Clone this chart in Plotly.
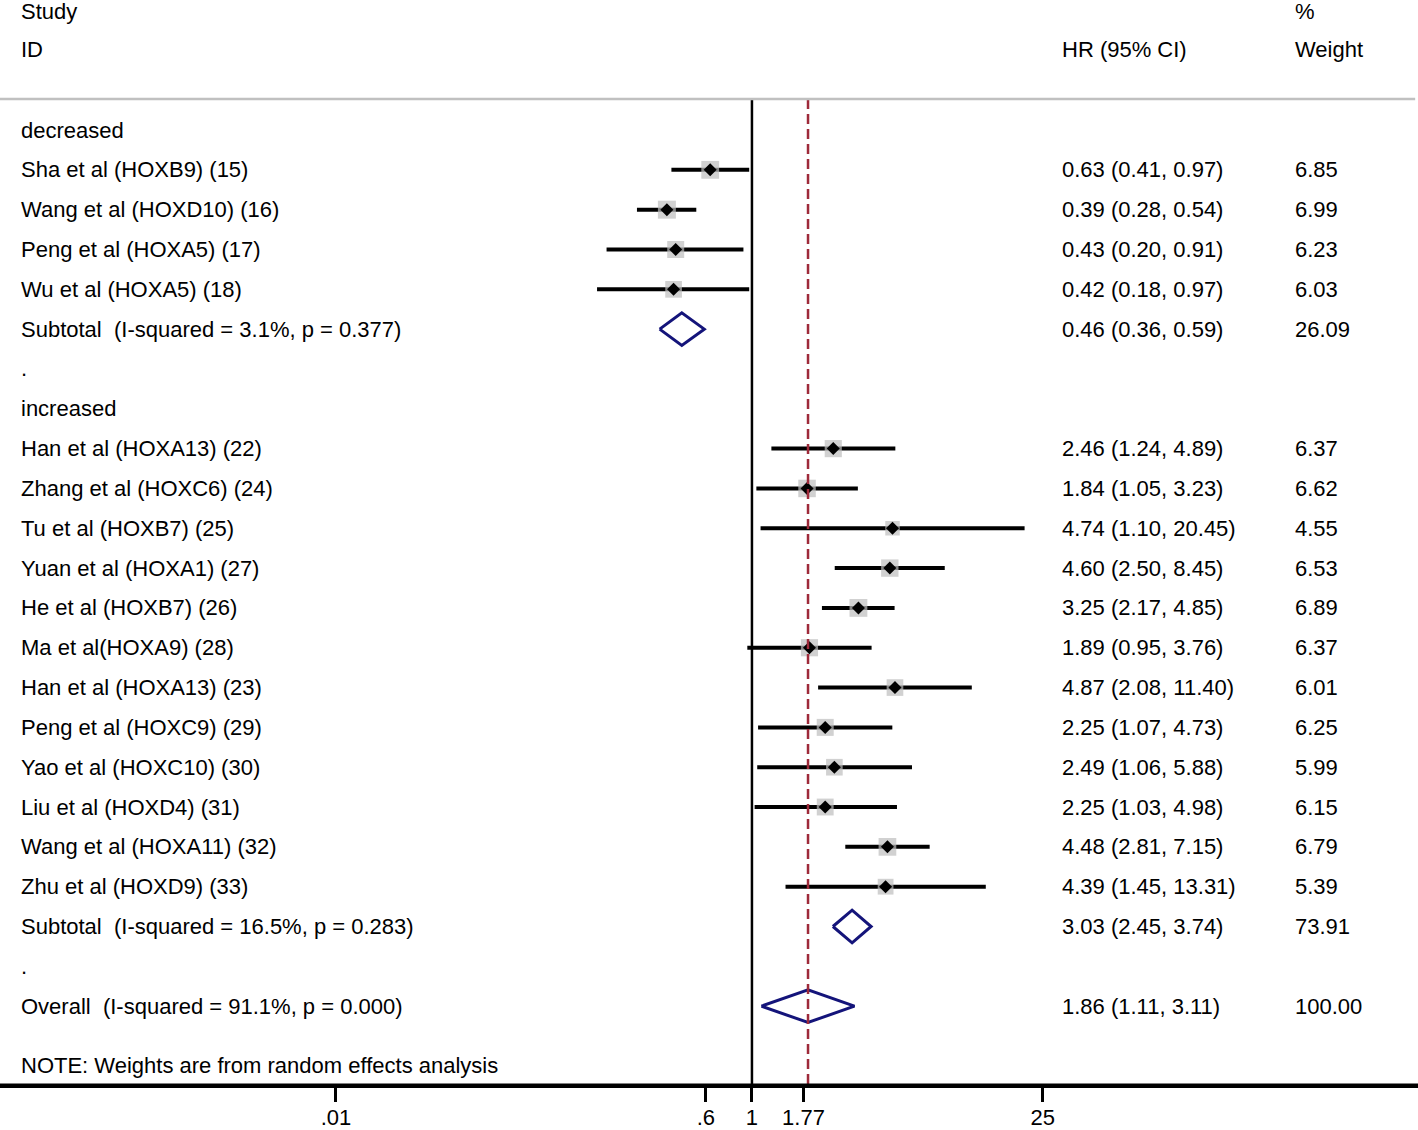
import math
import plotly.graph_objects as go

# -----------------------------
# Data
# -----------------------------
dec_names = ["Sha et al (HOXB9) (15)", "Wang et al (HOXD10) (16)",
             "Peng et al (HOXA5) (17)", "Wu et al (HOXA5) (18)"]
dec_hr = [0.63, 0.39, 0.43, 0.42]
dec_lo = [0.41, 0.28, 0.20, 0.18]
dec_hi = [0.97, 0.54, 0.91, 0.97]
dec_w = [6.85, 6.99, 6.23, 6.03]
dec_sub = [0.46, 0.36, 0.59, 26.09]
dec_sub_label = "Subtotal  (I-squared = 3.1%, p = 0.377)"

inc_names = ["Han et al (HOXA13) (22)", "Zhang et al (HOXC6) (24)", "Tu et al (HOXB7) (25)",
             "Yuan et al (HOXA1) (27)", "He et al (HOXB7) (26)", "Ma et al(HOXA9) (28)",
             "Han et al (HOXA13) (23)", "Peng et al (HOXC9) (29)", "Yao et al (HOXC10) (30)",
             "Liu et al (HOXD4) (31)", "Wang et al (HOXA11) (32)", "Zhu et al (HOXD9) (33)"]
inc_hr = [2.46, 1.84, 4.74, 4.60, 3.25, 1.89, 4.87, 2.25, 2.49, 2.25, 4.48, 4.39]
inc_lo = [1.24, 1.05, 1.10, 2.50, 2.17, 0.95, 2.08, 1.07, 1.06, 1.03, 2.81, 1.45]
inc_hi = [4.89, 3.23, 20.45, 8.45, 4.85, 3.76, 11.40, 4.73, 5.88, 4.98, 7.15, 13.31]
inc_w = [6.37, 6.62, 4.55, 6.53, 6.89, 6.37, 6.01, 6.25, 5.99, 6.15, 6.79, 5.39]
inc_sub = [3.03, 2.45, 3.74, 73.91]
inc_sub_label = "Subtotal  (I-squared = 16.5%, p = 0.283)"

overall = [1.86, 1.11, 3.11, 100.00]
overall_label = "Overall  (I-squared = 91.1%, p = 0.000)"

tick_vals = [0.01, 0.6, 1, 1.77, 25]
tick_text = [".01", ".6", "1", "1.77", "25"]

# -----------------------------
# Row layout
# -----------------------------
FONT = "Liberation Sans, Arial, sans-serif"
FS = 22

rows = []  # (label, kind, hr, lo, hi, w)
rows.append(("decreased", "head", None, None, None, None))
for n, h, l, u, w in zip(dec_names, dec_hr, dec_lo, dec_hi, dec_w):
    rows.append((n, "study", h, l, u, w))
rows.append((dec_sub_label, "sub", *dec_sub))
rows.append((".", "head", None, None, None, None))
rows.append(("increased", "head", None, None, None, None))
for n, h, l, u, w in zip(inc_names, inc_hr, inc_lo, inc_hi, inc_w):
    rows.append((n, "study", h, l, u, w))
rows.append((inc_sub_label, "sub", *inc_sub))
rows.append((".", "head", None, None, None, None))
rows.append((overall_label, "sub", *overall))

fig = go.Figure()

# CI lines
ci_x, ci_y = [], []
for i, r in enumerate(rows):
    if r[1] == "study":
        ci_x += [r[3], r[4], None]
        ci_y += [i, i, None]
fig.add_trace(go.Scatter(x=ci_x, y=ci_y, mode="lines",
                         line=dict(color="black", width=4), hoverinfo="skip"))

# weight squares + point estimates
sx = [r[2] for r in rows if r[1] == "study"]
sy = [i for i, r in enumerate(rows) if r[1] == "study"]
sw = [r[5] for r in rows if r[1] == "study"]
fig.add_trace(go.Scatter(x=sx, y=sy, mode="markers",
                         marker=dict(symbol="square", color="#bdbdbd",
                                     size=[6.8 * math.sqrt(w) for w in sw],
                                     line=dict(width=0))))
fig.add_trace(go.Scatter(x=sx, y=sy, mode="markers",
                         marker=dict(symbol="diamond", color="black", size=10,
                                     line=dict(width=0))))

# pooled diamonds
for i, r in enumerate(rows):
    if r[1] == "sub":
        h, l, u = r[2], r[3], r[4]
        fig.add_trace(go.Scatter(x=[l, h, u, h, l], y=[i, i - 0.41, i, i + 0.41, i],
                                 mode="lines", fill="toself", fillcolor="white",
                                 line=dict(color="#14147a", width=3)))

# reference lines
top_y = -0.78
bottom_y = 23.98
fig.add_shape(type="line", xref="x", yref="y", x0=1, x1=1, y0=top_y, y1=bottom_y,
              line=dict(color="black", width=2.5))
fig.add_shape(type="line", xref="x", yref="y", x0=overall[0], x1=overall[0], y0=top_y, y1=bottom_y,
              line=dict(color="#9e2a3a", width=2.5, dash="10px,5px"))
fig.add_shape(type="line", xref="paper", yref="y", x0=0, x1=0.998, y0=top_y, y1=top_y,
              line=dict(color="#c0c0c0", width=2.5))
fig.add_shape(type="line", xref="paper", yref="paper", x0=0, x1=1, y0=0, y1=0,
              line=dict(color="black", width=3))

# text columns
def txt(x, y, s):
    fig.add_annotation(x=x, y=y, xref="paper", yref="y", text=s.replace(" ", "\u00a0"),
                       showarrow=False, xanchor="left", yanchor="middle",
                       font=dict(family=FONT, size=FS, color="black"))

X_ID, X_HR, X_W = 19 / 1418, 1060 / 1418, 1293 / 1418
txt(X_ID, -2.97, "Study")
txt(X_ID, -2.01, "ID")
txt(X_HR, -2.01, "HR (95% CI)")
txt(X_W, -2.97, "%")
txt(X_W, -2.01, "Weight")

for i, r in enumerate(rows):
    txt(X_ID, i, r[0])
    if r[2] is not None:
        txt(X_HR, i, f"{r[2]:.2f} ({r[3]:.2f}, {r[4]:.2f})")
        txt(X_W, i, f"{r[5]:.2f}")

txt(X_ID, 23.48, "NOTE: Weights are from random effects analysis")

# -----------------------------
# Axes / layout
# -----------------------------
fig.update_xaxes(type="log", range=[-3.615, 3.202], showgrid=False, zeroline=False,
                 showline=True, linecolor="black", linewidth=3, automargin=False,
                 tickvals=tick_vals, ticktext=tick_text, ticks="outside",
                 ticklen=14, tickwidth=2.5, tickcolor="black", ticklabelstandoff=-3,
                 tickfont=dict(family=FONT, size=FS, color="black"))
fig.update_yaxes(range=[bottom_y, -3.265], visible=False, showgrid=False, zeroline=False,
                 automargin=False)
fig.update_layout(width=1418, height=1130, showlegend=False,
                  margin=dict(l=0, r=0, t=0, b=45),
                  paper_bgcolor="white", plot_bgcolor="white")

fig.write_html("out.html", config={"displayModeBar": False},
               post_script="document.body.style.margin='0px';")
